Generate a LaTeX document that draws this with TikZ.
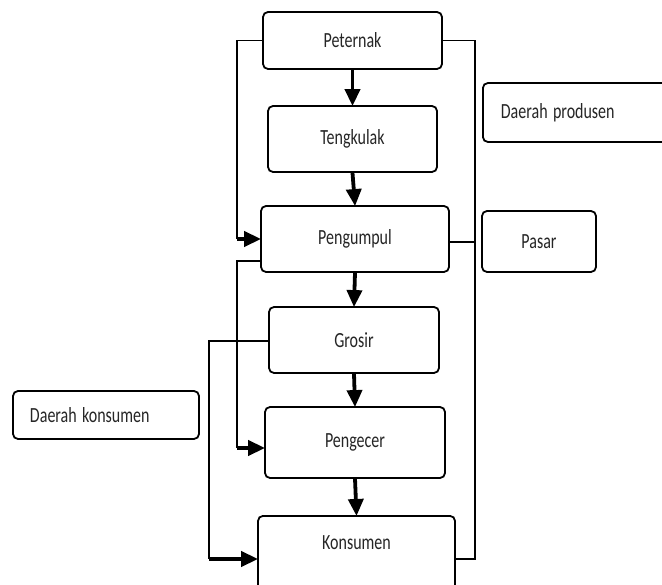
\documentclass[tikz,border=0pt]{standalone}
\usepackage{fontspec}
\setmainfont{Carlito}
\usepackage{graphicx}
\usetikzlibrary{arrows.meta}
\newcommand\tx[1]{\scalebox{1}[1.35]{#1}}
\begin{document}
\begin{tikzpicture}[x=1pt,y=-1pt,
  box/.style={draw, line width=1.8pt, rounded corners=5pt, inner sep=0pt,
    font=\fontsize{16}{18}\selectfont, text=black!85},
  conn/.style={line width=1.6pt},
  thickarrow/.style={line width=3.8pt, -{Triangle[length=17pt,width=15pt]}, shorten >=-1pt}]
\clip (0,0) rectangle (662,585);
\fill[white] (0,0) rectangle (662,585);
% main column
\node[box, minimum width=179, minimum height=57] (peternak) at (352.5,40.5) {\tx{Peternak}};
\node[box, minimum width=169, minimum height=66] (tengkulak) at (352.5,139) {\tx{Tengkulak}};
\node[box, minimum width=188, minimum height=66] (pengumpul) at (355,239) {\tx{Pengumpul}};
\node[box, minimum width=170, minimum height=66] (grosir) at (354,340) {\tx{Grosir}};
\node[box, minimum width=180, minimum height=71] (pengecer) at (355,442.5) {\tx{Pengecer}};
\node[box, minimum width=197, minimum height=104, anchor=north] (konsumen) at (356.5,515) {};
\node[font=\fontsize{16}{18}\selectfont, text=black!85, inner sep=0pt] (konsumentext) at (356.5,543) {\tx{Konsumen}};
% side boxes
\node[box, anchor=west, minimum height=59, text width=177, inner xsep=18pt, align=left] (produsen) at (482,112.5) {\tx{Daerah produsen}};
\node[box, minimum width=114, minimum height=61] (pasar) at (539,241.5) {\tx{Pasar}};
\node[box, minimum height=48, text width=152, inner xsep=17pt, align=left] (dkonsumen) at (106,415) {\tx{Daerah konsumen}};
% vertical arrows
\draw[thickarrow] (peternak.south) -- (tengkulak.north);
\draw[thickarrow] (tengkulak.south) -- (pengumpul.north);
\draw[thickarrow] (pengumpul.south) -- (grosir.north);
\draw[thickarrow] (grosir.south) -- (pengecer.north);
\draw[thickarrow] (pengecer.south) -- (konsumen.north);
% left connectors
\coordinate (a1) at (237,40.5);
\coordinate (a2) at (237,239);
\draw[conn] (peternak.west) -- (a1) -- (a2);
\draw[thickarrow] (a2) -- (pengumpul.west);
\coordinate (b1) at (237,261);
\coordinate (b2) at (237,448);
\draw[conn] (pengumpul.west |- b1) -- (b1) -- (b2);
\draw[thickarrow] (b2) -- (pengecer.west |- b2);
\coordinate (c1) at (209,341);
\coordinate (c2) at (209,559);
\draw[conn] (grosir.west |- c1) -- (c1) -- (c2);
\draw[thickarrow] (c2) -- (konsumen.west |- c2);
% right connectors
\coordinate (r1) at (475,40.5);
\coordinate (r2) at (475,559);
\coordinate (r3) at (475,242);
\draw[conn] (peternak.east) -- (r1) -- (r2) -- (konsumen.east |- r2);
\draw[conn] (pengumpul.east |- r3) -- (r3);
\end{tikzpicture}
\end{document}
